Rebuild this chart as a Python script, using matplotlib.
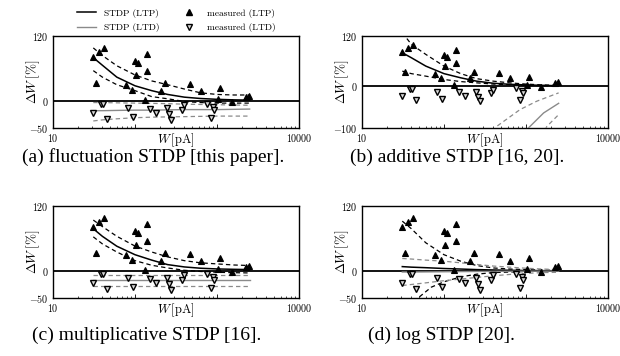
import matplotlib
matplotlib.use("Agg")
import matplotlib.pyplot as plt
from matplotlib.lines import Line2D
from matplotlib.ticker import FixedLocator, FixedFormatter, LogLocator, NullFormatter

plt.rcParams['font.family'] = 'cmr10'
plt.rcParams['mathtext.fontset'] = 'cm'
plt.rcParams['axes.unicode_minus'] = True

# ---------------- data ----------------
W_ltp = [31, 33.4, 36.4, 42.2, 77.6, 92.7, 100, 103, 108, 139, 141, 132, 209, 234, 472, 632, 1040, 1088, 1510, 2260, 2450]
dW_ltp = [82, 33, 91, 98, 29, 20, 74, 48, 70, 86, 55, 2, 19, 33, 31, 19, 3, 23, -2, 7, 9]

W_ltd = [31, 39, 41, 46, 83, 95, 152, 179, 243, 260, 273, 371, 395, 750, 850, 900, 915]
dW_ltd = [-23, -6, -6, -34, -13, -30, -15, -23, -13, -25, -35, -16, -8, -5, -32, -11, -17]

W_curve = [31, 40, 60, 100, 160, 250, 400, 630, 1000, 1600, 2500]

# (a) fluctuation STDP
a_ltp = [80, 66, 44, 28, 19, 12, 7, 4.5, 3, 2, 1.5]
a_ltp_hi = [98, 84, 65, 48, 37, 30, 22, 15, 12, 11, 11]
a_ltp_lo = [56, 44, 30, 19, 8, 4, -1, -3, -4, -4, -4]
a_ltd = [-18, -18, -17.5, -17, -17, -16.5, -16, -16, -16, -15.5, -15]
a_ltd_hi = [-3, -3, -3.5, -4, -4.5, -5, -6, -6.5, -7, -7.5, -8]
a_ltd_lo = [-37, -35, -33, -31, -30, -29.5, -29, -28.5, -28, -28, -28]

# (b) additive STDP
b_ltp = [80, 68, 48, 30, 20, 12, 7, 4.5, 3, 2, 1]
b_ltp_hi = [128, 100, 76, 48, 30, 18, 12, 8, 5, 3, 2]
b_ltp_lo = [36, 30, 24, 16, 11, 8, 5, 3.5, 2, 1, 0.5]
b_ltd_W = [1000, 1070, 1640, 2500]
b_ltd = [-110, -100, -64, -41]
b_ltd_hi_W = [400, 440, 845, 1350, 2500]
b_ltd_hi = [-110, -96, -56, -36, -16]
b_ltd_lo_W = [1700, 1800, 2500]
b_ltd_lo = [-105, -96, -68]

# (c) multiplicative STDP
c_ltp = [78, 64, 45.7, 30, 20, 11.7, 7.4, 5, 3.7, 3, 2.5]
c_ltp_hi = [94, 82, 64, 46, 35, 26, 19, 15, 13, 11, 10]
c_ltp_lo = [63, 50, 35, 19, 10.5, 5.5, 1.2, -1, -2.5, -3.2, -3.7]
c_ltd = [-16] * 11
c_ltd_hi = [-7] * 11
c_ltd_lo = [-27] * 11

# (d) log STDP
d_ltp = [8, 7, 6, 4.5, 3.5, 2.5, 1.8, 1.2, 0.8, 0.5, 0.3]
d_ltp_hi = [92, 78, 52, 30, 18, 10, 5.5, 3.5, 2.5, 1.5, 1]
d_ltp_lo_W = [45, 51, 70, 100, 160, 250, 400, 630, 1000, 1600, 2500]
d_ltp_lo = [-60, -47, -30, -20, -11, -6, -3, -2, -1, -0.5, 0]
d_ltd = [-2, -2, -1.8, -1.5, -1.2, -1, -0.8, -0.6, -0.5, -0.4, -0.3]
d_ltd_hi = [23, 22, 20, 18, 15, 12, 9, 7, 5, 3.5, 2.5]
d_ltd_lo = [-27, -25, -22, -18, -15, -12, -9, -6.5, -4.5, -3, -2.5]

captions = ["(a) fluctuation STDP [this paper].", "(b) additive STDP [16, 20].",
            "(c) multiplicative STDP [16].", "(d) log STDP [20]."]

# ---------------- figure ----------------
fig = plt.figure(figsize=(6.2, 3.56), dpi=100)
W, H = 620, 356

def add_axes(x0, y0, x1, y1):
    return fig.add_axes([x0 / W, 1 - y1 / H, (x1 - x0) / W, (y1 - y0) / H])

BLACK = 'black'
GRAY = '#8a8a8a'

def style(ax, ymin):
    ax.set_xscale('log')
    ax.set_xlim(10, 10000)
    ax.set_ylim(ymin, 120)
    ax.axhline(0, color='black', lw=1.3, zorder=2)
    ax.xaxis.set_major_locator(FixedLocator([10, 100, 1000, 10000]))
    ax.xaxis.set_major_formatter(FixedFormatter(['$10$', '', '', '$10000$']))
    ax.xaxis.set_minor_locator(LogLocator(base=10, subs=range(2, 10)))
    ax.xaxis.set_minor_formatter(NullFormatter())
    ax.yaxis.set_major_locator(FixedLocator([ymin, 0, 120]))
    ax.yaxis.set_major_formatter(FixedFormatter(['$%d$' % ymin, '$0$', '$120$']))
    ax.tick_params(axis='x', which='major', direction='in', length=3, width=0.6,
                   labelsize=7.2, pad=3, top=False)
    ax.tick_params(axis='x', which='minor', direction='in', length=1.8, width=0.5, top=False)
    ax.tick_params(axis='y', which='major', direction='in', length=0, labelsize=7.2, pad=3)
    for s in ax.spines.values():
        s.set_linewidth(1.0)
    ax.set_xlabel(r'$W\,[\mathrm{pA}]$', fontsize=9)
    ax.xaxis.set_label_coords(0.5, -0.035)
    ax.set_ylabel(r'$\Delta W\,[\%]$', fontsize=9.5, va='center')
    ax.yaxis.set_label_coords(-0.08, 0.5)

def points(ax):
    ax.plot(W_ltp, dW_ltp, linestyle='none', marker='^', ms=5, mfc='black', mec='black',
            mew=0.8, zorder=4)
    ax.plot(W_ltd, dW_ltd, linestyle='none', marker='v', ms=5, mfc='#d8d8d8', mec='black',
            mew=1.0, zorder=4)

def curves(ax, ltp, hi, lo, ltd, dhi, dlo, Wd=None, Wdh=None, Wdl=None, Wlo=None):
    ax.plot(W_curve, ltp, color=BLACK, lw=1.1, zorder=3)
    ax.plot(W_curve, hi, color=BLACK, lw=0.9, ls=(0, (3.5, 2.5)), zorder=3)
    ax.plot(Wlo if Wlo else W_curve, lo, color=BLACK, lw=0.9, ls=(0, (3.5, 2.5)), zorder=3)
    ax.plot(Wd if Wd else W_curve, ltd, color=GRAY, lw=1.0, zorder=3)
    ax.plot(Wdh if Wdh else W_curve, dhi, color=GRAY, lw=0.9, ls=(0, (3.5, 2.5)), zorder=3)
    ax.plot(Wdl if Wdl else W_curve, dlo, color=GRAY, lw=0.9, ls=(0, (3.5, 2.5)), zorder=3)

ax_a = add_axes(53, 36, 299, 128)
ax_b = add_axes(362, 36, 608, 128)
ax_c = add_axes(53, 206, 299, 298)
ax_d = add_axes(362, 206, 608, 298)

style(ax_a, -50)
style(ax_b, -100)
style(ax_c, -50)
style(ax_d, -50)

curves(ax_a, a_ltp, a_ltp_hi, a_ltp_lo, a_ltd, a_ltd_hi, a_ltd_lo)
curves(ax_b, b_ltp, b_ltp_hi, b_ltp_lo, b_ltd, b_ltd_hi, b_ltd_lo,
       Wd=b_ltd_W, Wdh=b_ltd_hi_W, Wdl=b_ltd_lo_W)
curves(ax_c, c_ltp, c_ltp_hi, c_ltp_lo, c_ltd, c_ltd_hi, c_ltd_lo)
curves(ax_d, d_ltp, d_ltp_hi, d_ltp_lo, d_ltd, d_ltd_hi, d_ltd_lo, Wlo=d_ltp_lo_W)

for ax in (ax_a, ax_b, ax_c, ax_d):
    points(ax)

# legend
handles = [Line2D([], [], color=BLACK, lw=1.1),
           Line2D([], [], color=GRAY, lw=1.0),
           Line2D([], [], ls='none', marker='^', ms=5, mfc='black', mec='black'),
           Line2D([], [], ls='none', marker='v', ms=5, mfc='#d8d8d8', mec='black', mew=1.0)]
labels = ['STDP (LTP)', 'STDP (LTD)', 'measured (LTP)', 'measured (LTD)']
fig.legend(handles, labels, ncol=2, loc='center', bbox_to_anchor=(176 / W, 1 - 20.5 / H),
           frameon=False, fontsize=6.8, handlelength=2.0, handletextpad=0.85,
           columnspacing=2.2, labelspacing=0.6, borderpad=0)

# captions
cap_pos = [(153.5, 157), (457, 157), (147, 335), (441.5, 335)]
for (cx, cy), txt in zip(cap_pos, captions):
    fig.text(cx / W, 1 - cy / H, txt, ha='center', va='center', fontsize=14,
             family='Liberation Serif')

fig.savefig('out.png', dpi=100)
